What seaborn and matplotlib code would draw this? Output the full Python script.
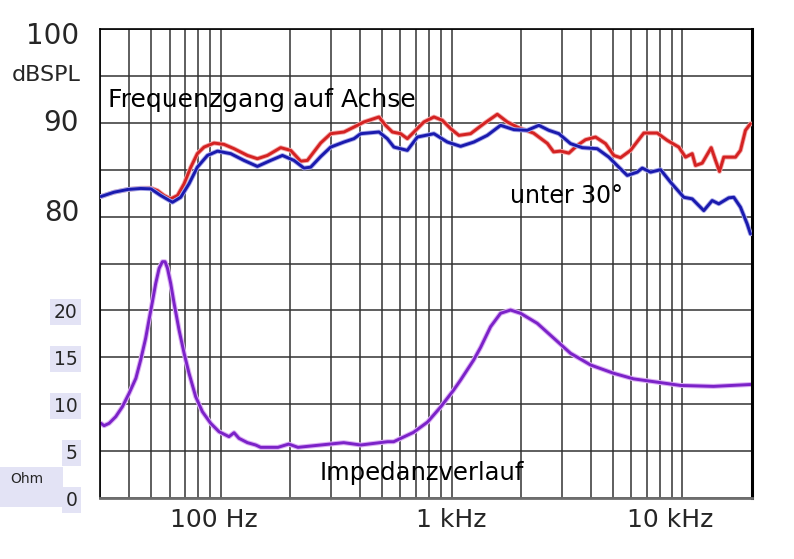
import numpy as np
import matplotlib
matplotlib.use('Agg')
import matplotlib.pyplot as plt
import seaborn as sns
from matplotlib import patheffects as pe
from matplotlib.ticker import FixedLocator, LogLocator, NullFormatter
from matplotlib.patches import Rectangle
import matplotlib.transforms as mtransforms

# ---- data ----
freq_on = [30.3, 34.5, 39.5, 45.0, 49.8, 53.2, 56.8, 60.7, 65.0, 69.4, 74.2, 79.2, 84.7, 93.5,
           103.3, 114.2, 130.5, 144.1, 159.3, 181.8, 200.9, 222, 237.3, 271, 299.5, 341.9,
           377.8, 417.3, 484.6, 517.7, 553.6, 601.4, 643.1, 686.9, 758.9, 838.5, 911.3, 990,
           1075.5, 1208.7, 1379.9, 1577.2, 1742.2, 1924.4, 1989, 2265, 2600, 2765, 2964,
           3220, 3501, 3803, 4201, 4642, 5042, 5390, 5955, 6800, 7775, 8587, 9638, 10306,
           11016, 11385, 12170, 13314, 13900, 14462, 15096, 16960, 17830, 18740, 19700]
spl_on = [82.14, 82.60, 82.89, 83.03, 83.03, 82.78, 82.25, 81.89, 82.25, 83.50, 85.27, 86.71,
          87.41, 87.84, 87.70, 87.24, 86.52, 86.17, 86.52, 87.35, 87.06, 85.91, 85.99, 87.85,
          88.84, 89.02, 89.55, 90.09, 90.62, 89.73, 89.02, 88.84, 88.31, 89.02, 90.09, 90.62,
          90.27, 89.38, 88.66, 88.84, 89.91, 90.91, 90.09, 89.55, 89.40, 88.90, 87.80, 86.90,
          86.98, 86.77, 87.59, 88.20, 88.48, 87.78, 86.52, 86.28, 87.06, 88.91, 88.91, 88.13,
          87.41, 86.34, 86.71, 85.45, 85.70, 87.35, 85.99, 84.81, 86.34, 86.34, 87.06, 89.20,
          89.91]

freq_30 = [30.3, 34.5, 39.5, 45.0, 49.8, 55.0, 61.8, 67.1, 72.9, 79.2, 87.6, 96.8, 110.5,
           126.1, 144.1, 164.6, 185, 207.6, 229.4, 245.3, 271, 299.5, 341.9, 377.8, 404,
           484.6, 526.6, 562.5, 643.1, 710.6, 838.5, 958, 1094, 1249, 1427, 1630, 1861, 2126,
           2387, 2637, 2914, 3274, 3680, 4272, 4797, 5300, 5763, 6368, 6693, 7271, 8035, 8874,
           10130, 11016, 12365, 13444, 14361, 15867, 16680, 17830, 19060, 19700]
spl_30 = [82.14, 82.60, 82.89, 83.00, 82.96, 82.25, 81.53, 82.06, 83.50, 85.27, 86.52, 86.98,
          86.71, 85.99, 85.35, 85.99, 86.52, 85.99, 85.17, 85.27, 86.40, 87.41, 87.95, 88.31,
          88.84, 89.02, 88.31, 87.41, 87.06, 88.48, 88.84, 87.95, 87.49, 87.95, 88.66, 89.73,
          89.27, 89.20, 89.73, 89.20, 88.84, 87.78, 87.35, 87.24, 86.34, 85.27, 84.39, 84.74,
          85.17, 84.74, 85.00, 83.67, 82.06, 81.89, 80.64, 81.71, 81.36, 82.00, 82.06, 81.00,
          79.22, 78.15]

freq_imp = [30.3, 31.25, 32.85, 35.1, 37.5, 40.1, 42.9, 45.0, 47.3, 48.9, 50.6, 52.3, 54.1,
            55.9, 57.4, 58.8, 60.7, 62.8, 66.0, 69.4, 72.9, 77.9, 83.3, 90.5, 98.3, 108.6,
            114.2, 120.0, 130.5, 141.7, 149, 177, 197, 216, 271, 341, 404, 528, 561, 684, 787,
            896, 1020, 1094, 1245, 1335, 1475, 1629, 1800, 1990, 2350, 2772, 3273, 3999,
            5027, 6139, 8035, 9800, 13620, 19690]
imp_ohm = [7.96, 7.71, 7.96, 8.67, 9.73, 11.16, 12.76, 14.71, 17.03, 18.98, 20.93, 22.89, 24.49,
           25.19, 25.19, 24.49, 22.89, 20.76, 17.91, 15.43, 13.29, 10.80, 9.20, 7.96, 7.07,
           6.54, 6.96, 6.36, 5.90, 5.65, 5.40, 5.40, 5.75, 5.40, 5.65, 5.90, 5.65, 6.00, 6.00,
           7.00, 8.10, 9.70, 11.50, 12.58, 14.70, 16.05, 18.26, 19.69, 20.04, 19.69,
           18.62, 17.03, 15.43, 14.18, 13.30, 12.70, 12.30, 12.00, 11.90, 12.10]

x_tick_vals = [100, 1000, 10000]
x_tick_labels = ['100 Hz', '1 kHz', '10 kHz']
ohm_ticks = [0, 5, 10, 15, 20]
db_ticks = [80, 90, 100]

# ---- style ----
sns.set_style('white')
plt.rcParams['font.family'] = ['DejaVu Sans']

W, H = 794, 559
fig = plt.figure(figsize=(W / 100, H / 100), dpi=100)
ax = fig.add_axes([100 / W, 61 / H, 652 / W, 469 / H])
ax.set_xscale('log')
ax.set_xlim(30, 20000)
ax.set_ylim(0, 50)
ax2 = ax.twinx()
ax2.set_ylim(50, 100)

# ---- lines ----
sns.lineplot(x=freq_imp, y=imp_ohm, ax=ax, color='#7b22c8', linewidth=2.1,
             path_effects=[pe.Stroke(linewidth=3.6, foreground='#dcb0f4'), pe.Normal()])
sns.lineplot(x=freq_on, y=spl_on, ax=ax2, color='#d42222', linewidth=2.1,
             path_effects=[pe.Stroke(linewidth=3.4, foreground='#f2a8a8'), pe.Normal()])
sns.lineplot(x=freq_30, y=spl_30, ax=ax2, color='#1a1aae', linewidth=2.1,
             path_effects=[pe.Stroke(linewidth=3.4, foreground='#a8a8e8'), pe.Normal()])

# ---- grid & ticks ----
ax.set_xticks(x_tick_vals)
ax.set_xticklabels(x_tick_labels, fontsize=18)
ax.xaxis.set_minor_locator(LogLocator(base=10, subs=np.arange(2, 10)))
ax.xaxis.set_minor_formatter(NullFormatter())
ax.set_yticks(ohm_ticks)
ax.set_yticklabels([str(v) for v in ohm_ticks], fontsize=13.5)
ax.yaxis.set_minor_locator(FixedLocator([25, 30, 35, 40, 45, 50]))
ax.grid(True, which='both', color='#333333', linewidth=1.1)
ax.tick_params(axis='both', which='both', length=0)
ax.tick_params(axis='x', pad=7)
ax.tick_params(axis='y', pad=16)
ax.set_xlabel('')
ax.set_ylabel('')
for lab in ax.get_yticklabels():
    lab.set_bbox(dict(facecolor='#e3e3f5', edgecolor='none', pad=2.5))

xoff = {'100 Hz': -7, '1 kHz': 0, '10 kHz': -12}
for lab in ax.get_xticklabels():
    dx = xoff.get(lab.get_text(), 0)
    lab.set_transform(lab.get_transform() + mtransforms.ScaledTranslation(dx / 100, 0, fig.dpi_scale_trans))

ax2.yaxis.tick_left()
ax2.set_yticks(db_ticks)
ax2.set_yticklabels([str(v) for v in db_ticks], fontsize=20)
ax2.tick_params(axis='y', length=0, pad=15)
ax2.grid(False)
ax2.set_ylabel('')
ax2.set_xlabel('')
yoff = {'100': -4, '90': 3, '80': 7}
for lab in ax2.get_yticklabels():
    dy = yoff.get(lab.get_text(), 0)
    lab.set_transform(lab.get_transform() + mtransforms.ScaledTranslation(0, dy / 100, fig.dpi_scale_trans))

for s in ax2.spines.values():
    s.set_visible(False)
ax.spines['top'].set_color('black'); ax.spines['top'].set_linewidth(1.2)
ax.spines['left'].set_color('black'); ax.spines['left'].set_linewidth(1.2)
ax.spines['bottom'].set_color('#6e6e6e'); ax.spines['bottom'].set_linewidth(2.0)
ax.spines['right'].set_color('black'); ax.spines['right'].set_linewidth(2.2)
ax.set_zorder(1)
ax2.set_zorder(2)
ax2.patch.set_visible(False)

# ---- annotations ----
ax.text(0.0123, 0.849, 'Frequenzgang auf Achse', transform=ax.transAxes,
        fontsize=18, ha='left', va='center', color='black')
ax.text(0.715, 0.644, 'unter 30°', transform=ax.transAxes,
        fontsize=17, ha='center', va='center', color='black')
ax.text(0.493, 0.053, 'Impedanzverlauf', transform=ax.transAxes,
        fontsize=17.5, ha='center', va='center', color='black')

fig.text(81 / W, 1 - 75 / H, 'dBSPL', ha='right', va='center', fontsize=16)
fig.patches.append(Rectangle((0, 52 / H), 63 / W, 40 / H, transform=fig.transFigure,
                             facecolor='#e3e3f5', edgecolor='none'))
fig.text(10 / W, 1 - 479 / H, 'Ohm', ha='left', va='center', fontsize=10)

fig.savefig('out.png', dpi=100)
